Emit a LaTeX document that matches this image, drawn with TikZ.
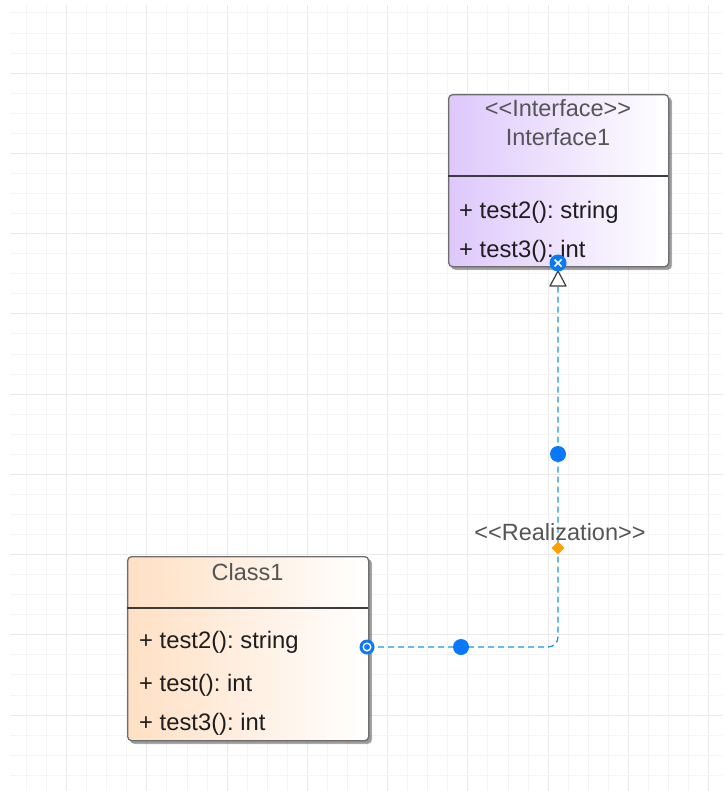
\documentclass[tikz,border=0pt]{standalone}
\usepackage{fontspec}
\setmainfont{Liberation Sans}
\frenchspacing
\definecolor{gridminor}{RGB}{245,245,245}
\definecolor{gridmajor}{RGB}{234,234,234}
\definecolor{ifleft}{RGB}{222,200,252}
\definecolor{clleft}{RGB}{255,224,196}
\definecolor{boxborder}{RGB}{110,110,110}
\definecolor{sepline}{RGB}{60,60,60}
\definecolor{headtext}{RGB}{85,85,85}
\definecolor{membertext}{RGB}{30,30,30}
\definecolor{connblue}{RGB}{30,150,225}
\definecolor{handleblue}{RGB}{10,120,250}
\definecolor{handleorange}{RGB}{255,160,0}
\tikzset{
  umlbox/.style={draw=boxborder, line width=1.3pt, rounded corners=4pt, inner sep=0pt, anchor=north west},
  ifbox/.style={umlbox, left color=ifleft, right color=white},
  clbox/.style={umlbox, left color=clleft, right color=white},
  shadowbox/.style={fill=black, opacity=0.22, rounded corners=4pt},
  sepl/.style={draw=sepline, line width=1.4pt},
  headtxt/.style={text=headtext, font=\fontsize{23.5}{27}\selectfont, inner sep=0pt},
  membtxt/.style={text=membertext, font=\fontsize{23.8}{27}\selectfont, inner sep=0pt, anchor=west},
  conn/.style={draw=connblue, line width=1.3pt, dash pattern=on 6pt off 4pt},
  hollowtip/.style={draw=sepline, fill=white, line width=1.2pt, line join=round},
  bluedot/.style={circle, fill=handleblue, minimum size=16pt, inner sep=0pt},
  orangedia/.style={diamond, fill=handleorange, minimum size=13pt, inner sep=0pt},
  lbltxt/.style={text=headtext, font=\fontsize{23.5}{27}\selectfont, inner sep=0pt}
}
\usetikzlibrary{shapes.geometric}
\begin{document}
\begin{tikzpicture}[x=1pt,y=-1pt]
\useasboundingbox (0,0) rectangle (723,791);
\fill[white] (0,0) rectangle (723,791);
% grid
\begin{scope}
\clip (10,5) rectangle (723,791);
\foreach \k in {0,...,35} {
  \pgfmathsetmacro{\gx}{6.5+20.06*\k}
  \pgfmathtruncatemacro{\m}{mod(\k,4)}
  \ifnum\m=3
    \draw[gridmajor, line width=1pt] (\gx,5) -- (\gx,791);
  \else
    \draw[gridminor, line width=1pt] (\gx,5) -- (\gx,791);
  \fi
}
\foreach \k in {0,...,39} {
  \pgfmathsetmacro{\gy}{13+20.06*\k}
  \pgfmathtruncatemacro{\m}{mod(\k,4)}
  \ifnum\m=3
    \draw[gridmajor, line width=1pt] (10,\gy) -- (723,\gy);
  \else
    \draw[gridminor, line width=1pt] (10,\gy) -- (723,\gy);
  \fi
}
\end{scope}
% Interface box
\fill[shadowbox] (450.5,96.5) rectangle (671.5,269.5);
\fill[shadowbox] (451.5,97.5) rectangle (672,270);
\node[ifbox, minimum width=220pt, minimum height=172pt] (iface) at (448,94) {};
\draw[sepl] (448,176) -- (668,176);
\node[headtxt] (ifster) at (558,108) {<{}<Interface>{}>};
\node[headtxt] (ifname) at (558,137) {Interface1};
\node[membtxt] (ifm1) at (459,212) {+ test2(): string};
\node[membtxt] (ifm2) at (459,251) {+ test3(): int};
% Class box
\fill[shadowbox] (129.5,558.5) rectangle (371.5,743.5);
\fill[shadowbox] (130.5,559.5) rectangle (372,744);
\node[clbox, minimum width=241pt, minimum height=184pt] (cls) at (127,556) {};
\draw[sepl] (127,608) -- (368,608);
\node[headtxt] (clname) at (247.5,572) {Class1};
\node[membtxt] (clm1) at (139,642) {+ test2(): string};
\node[membtxt] (clm2) at (139,685) {+ test(): int};
\node[membtxt] (clm3) at (139,724) {+ test3(): int};
% connector
\coordinate (src) at (368,647);
\coordinate (base) at (558,286);
\coordinate (tip) at (558,271);
\draw[conn, rounded corners=10pt] (src) -| (base);
\draw[hollowtip] (tip) -- (550,286) -- (566,286) -- cycle;
\node[lbltxt] (rlz) at (560,532) {<{}<Realization>{}>};
% handles
\node[bluedot] (h1) at (558,454) {};
\node[bluedot] (h2) at (461,647) {};
\node[orangedia] (h3) at (558,548) {};
\node[circle, fill=handleblue, minimum size=15pt, inner sep=0pt] (h4) at (367,647) {};
\draw[white, line width=1.4pt] (h4) circle (3.8pt);
\node[circle, fill=handleblue, minimum size=17pt, inner sep=0pt] (h5) at (558,263) {};
\draw[white, line width=1.6pt] (554.5,259.5) -- (561.5,266.5) (554.5,266.5) -- (561.5,259.5);
\end{tikzpicture}
\end{document}
